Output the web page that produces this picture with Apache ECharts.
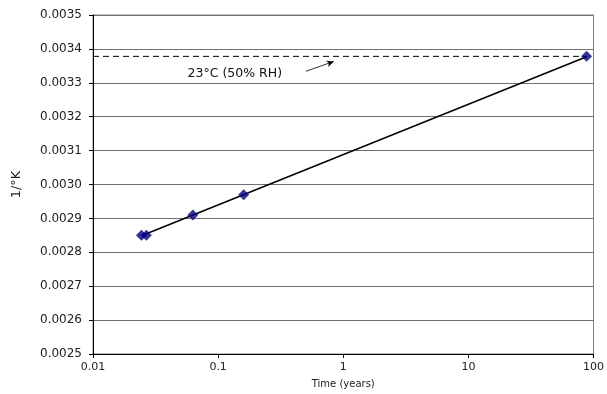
<!DOCTYPE html>
<html>
<head>
<meta charset="utf-8">
<script src="https://cdn.jsdelivr.net/npm/echarts@6/dist/echarts.min.js"></script>
<style>
  html, body { margin: 0; padding: 0; background: #fff; }
  #chart { width: 607px; height: 394px; }
</style>
</head>
<body>
<div id="chart"></div>
<script>
// measured points (time in years, 1/K)
var timeYears = [0.0244, 0.0267, 0.0628, 0.160, 88]
var invK = [0.00285, 0.00285, 0.00291, 0.00297, 0.003378]
// fitted line end points
var fitX = [0.0244, 88]
var fitY = [0.002849, 0.003377]
// 23C reference level
var refLevel = 0.003378
var refLabel = '23°C (50% RH)'
var xTicks = [0.01, 0.1, 1, 10, 100]

var fontName = 'DejaVu Sans'

var points = timeYears.map(function (t, i) { return [t, invK[i]] })
var fit = fitX.map(function (t, i) { return [t, fitY[i]] })

var option = {
  backgroundColor: '#fff',
  animation: false,
  grid: {
    left: 93,
    right: 10,
    top: 15,
    bottom: 39,
    show: true,
    borderColor: '#808080',
    borderWidth: 1
  },
  xAxis: {
    type: 'log',
    logBase: 10,
    min: 0.01,
    max: 100,
    name: 'Time (years)',
    nameLocation: 'middle',
    nameGap: 25,
    nameTextStyle: { fontFamily: fontName, fontSize: 10, color: '#222' },
    axisLine: { show: true, lineStyle: { color: '#000', width: 1 } },
    axisTick: { show: true, inside: false, length: 4, lineStyle: { color: '#000' } },
    minorTick: { show: false },
    splitLine: { show: false },
    axisLabel: {
      fontFamily: fontName,
      fontSize: 11,
      color: '#222',
      margin: 8,
      formatter: function (v) {
        var r = xTicks.filter(function (t) { return Math.abs(t - v) / t < 1e-6 })
        return r.length ? String(r[0]) : ''
      }
    }
  },
  yAxis: {
    type: 'value',
    min: 0.0025,
    max: 0.0035,
    interval: 0.0001,
    name: '1/°K',
    nameLocation: 'middle',
    nameGap: 70,
    nameRotate: 90,
    nameTextStyle: { fontFamily: fontName, fontSize: 13, color: '#222' },
    axisLine: { show: true, lineStyle: { color: '#000', width: 1 } },
    axisTick: { show: true, inside: false, length: 4, lineStyle: { color: '#000' } },
    splitLine: { show: true, lineStyle: { color: '#707070', width: 1.2 } },
    axisLabel: {
      fontFamily: fontName,
      fontSize: 12,
      color: '#222',
      margin: 11,
      formatter: function (v) { return v.toFixed(4) }
    }
  },
  series: [
    {
      name: 'ref',
      type: 'line',
      data: [[0.01, refLevel], [timeYears[timeYears.length - 1], refLevel]],
      symbol: 'none',
      lineStyle: { color: '#000', width: 1, type: [6, 4] },
      z: 2,
      markLine: {
        silent: true,
        symbol: ['none', 'arrow'],
        symbolSize: [5, 7],
        label: { show: false },
        lineStyle: { color: '#000', width: 0.8, type: 'solid' },
        data: [[{ coord: [0.503, 0.003334] }, { coord: [0.84, 0.003363] }]]
      },
      markPoint: {
        silent: true,
        symbol: 'circle',
        symbolSize: 0,
        label: {
          show: true,
          position: 'right',
          distance: 0,
          formatter: refLabel,
          fontFamily: fontName,
          fontSize: 12.5,
          color: '#111'
        },
        data: [{ coord: [0.057, 0.003328] }]
      }
    },
    {
      name: 'fit',
      type: 'line',
      data: fit,
      symbol: 'none',
      lineStyle: { color: '#000', width: 1.5 },
      z: 3
    },
    {
      name: 'data',
      type: 'scatter',
      data: points,
      symbol: 'diamond',
      symbolSize: [11, 11],
      itemStyle: { color: '#000080' },
      z: 4
    }
  ]
}

var myChart = echarts.init(document.getElementById('chart'))
myChart.setOption(option)
</script>
</body>
</html>
